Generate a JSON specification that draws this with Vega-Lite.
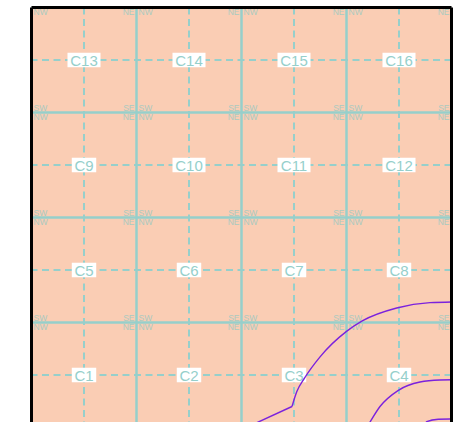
{
  "$schema": "https://vega.github.io/schema/vega-lite/v6.json",
  "width": 420,
  "height": 414.5,
  "autosize": "none",
  "padding": {"left": 31.5, "top": 7.5, "right": 6.5, "bottom": 0},
  "background": "white",
  "config": {
    "view": {"fill": "#FACDB4", "stroke": null},
    "axis": {"disable": true},
    "text": {"font": "Liberation Sans"}
  },
  "datasets": {
    "solid": [{"v": 1}, {"v": 2}, {"v": 3}],
    "dashed": [{"v": 0.5}, {"v": 1.5}, {"v": 2.5}, {"v": 3.5}],
    "frameV": [{"v": 0}, {"v": 4}],
    "frameH": [{"v": 4}],
    "cells": [
      {"cx": 0.5, "cy": 0.5, "label": "C1"}, {"cx": 1.5, "cy": 0.5, "label": "C2"}, {"cx": 2.5, "cy": 0.5, "label": "C3"}, {"cx": 3.5, "cy": 0.5, "label": "C4"},
      {"cx": 0.5, "cy": 1.5, "label": "C5"}, {"cx": 1.5, "cy": 1.5, "label": "C6"}, {"cx": 2.5, "cy": 1.5, "label": "C7"}, {"cx": 3.5, "cy": 1.5, "label": "C8"},
      {"cx": 0.5, "cy": 2.5, "label": "C9"}, {"cx": 1.5, "cy": 2.5, "label": "C10"}, {"cx": 2.5, "cy": 2.5, "label": "C11"}, {"cx": 3.5, "cy": 2.5, "label": "C12"},
      {"cx": 0.5, "cy": 3.5, "label": "C13"}, {"cx": 1.5, "cy": 3.5, "label": "C14"}, {"cx": 2.5, "cy": 3.5, "label": "C15"}, {"cx": 3.5, "cy": 3.5, "label": "C16"}
    ],
    "corners": [
      {"gx": 0, "gy": 1}, {"gx": 1, "gy": 1}, {"gx": 2, "gy": 1}, {"gx": 3, "gy": 1}, {"gx": 4, "gy": 1},
      {"gx": 0, "gy": 2}, {"gx": 1, "gy": 2}, {"gx": 2, "gy": 2}, {"gx": 3, "gy": 2}, {"gx": 4, "gy": 2},
      {"gx": 0, "gy": 3}, {"gx": 1, "gy": 3}, {"gx": 2, "gy": 3}, {"gx": 3, "gy": 3}, {"gx": 4, "gy": 3},
      {"gx": 0, "gy": 4}, {"gx": 1, "gy": 4}, {"gx": 2, "gy": 4}, {"gx": 3, "gy": 4}, {"gx": 4, "gy": 4}
    ],
    "contours": [
      {"id": "1a", "x": 2.046, "y": 0.0}, {"id": "1a", "x": 2.481, "y": 0.2},
      {"id": "1b", "x": 2.481, "y": 0.2}, {"id": "1b", "x": 2.526, "y": 0.34},
      {"id": "1b", "x": 2.6, "y": 0.47}, {"id": "1b", "x": 2.75, "y": 0.675}, {"id": "1b", "x": 3.0, "y": 0.915},
      {"id": "1b", "x": 3.15, "y": 1.015}, {"id": "1b", "x": 3.478, "y": 1.138}, {"id": "1b", "x": 3.795, "y": 1.189},
      {"id": "1b", "x": 4.05, "y": 1.196},
      {"id": "2", "x": 3.193, "y": 0.0}, {"id": "2", "x": 3.224, "y": 0.052}, {"id": "2", "x": 3.319, "y": 0.2},
      {"id": "2", "x": 3.49, "y": 0.352}, {"id": "2", "x": 3.7, "y": 0.433}, {"id": "2", "x": 3.89, "y": 0.452},
      {"id": "2", "x": 4.05, "y": 0.455},
      {"id": "3", "x": 3.738, "y": 0.0}, {"id": "3", "x": 3.764, "y": 0.055}, {"id": "3", "x": 3.874, "y": 0.078},
      {"id": "3", "x": 3.986, "y": 0.081}, {"id": "3", "x": 4.05, "y": 0.081}
    ]
  },
  "layer": [
    {
      "data": {"name": "dashed"},
      "mark": {"type": "rule", "color": "#96CFCB", "strokeWidth": 2, "strokeDash": [7, 4.5], "clip": true},
      "encoding": {"x": {"field": "v", "type": "quantitative", "scale": {"domain": [0, 4], "nice": false}}}
    },
    {
      "data": {"name": "dashed"},
      "mark": {"type": "rule", "color": "#96CFCB", "strokeWidth": 2, "strokeDash": [7, 4.5], "clip": true},
      "encoding": {"y": {"field": "v", "type": "quantitative", "scale": {"domain": [0.0524, 4], "nice": false}}}
    },
    {
      "data": {"name": "solid"},
      "mark": {"type": "rule", "color": "#96CFCB", "strokeWidth": 2.5, "clip": true},
      "encoding": {"x": {"field": "v", "type": "quantitative", "scale": {"domain": [0, 4], "nice": false}}}
    },
    {
      "data": {"name": "solid"},
      "mark": {"type": "rule", "color": "#96CFCB", "strokeWidth": 2.5, "clip": true},
      "encoding": {"y": {"field": "v", "type": "quantitative", "scale": {"domain": [0.0524, 4], "nice": false}}}
    },
    {
      "data": {"name": "corners"},
      "transform": [{"filter": "datum.gx > 0 && datum.gy < 4"}],
      "mark": {"type": "text", "text": "SE", "align": "right", "baseline": "alphabetic", "dx": -2, "dy": -1.5, "fontSize": 8.5, "color": "#8FC9C5", "opacity": 0.75, "clip": true},
      "encoding": {
        "x": {"field": "gx", "type": "quantitative", "scale": {"domain": [0, 4], "nice": false}},
        "y": {"field": "gy", "type": "quantitative", "scale": {"domain": [0.0524, 4], "nice": false}}
      }
    },
    {
      "data": {"name": "corners"},
      "transform": [{"filter": "datum.gx < 4 && datum.gy < 4"}],
      "mark": {"type": "text", "text": "SW", "align": "left", "baseline": "alphabetic", "dx": 2, "dy": -1.5, "fontSize": 8.5, "color": "#8FC9C5", "opacity": 0.75, "clip": true},
      "encoding": {
        "x": {"field": "gx", "type": "quantitative", "scale": {"domain": [0, 4], "nice": false}},
        "y": {"field": "gy", "type": "quantitative", "scale": {"domain": [0.0524, 4], "nice": false}}
      }
    },
    {
      "data": {"name": "corners"},
      "transform": [{"filter": "datum.gx > 0"}],
      "mark": {"type": "text", "text": "NE", "align": "right", "baseline": "top", "dx": -2, "dy": 0.5, "fontSize": 8.5, "color": "#8FC9C5", "opacity": 0.75, "clip": true},
      "encoding": {
        "x": {"field": "gx", "type": "quantitative", "scale": {"domain": [0, 4], "nice": false}},
        "y": {"field": "gy", "type": "quantitative", "scale": {"domain": [0.0524, 4], "nice": false}}
      }
    },
    {
      "data": {"name": "corners"},
      "transform": [{"filter": "datum.gx < 4"}],
      "mark": {"type": "text", "text": "NW", "align": "left", "baseline": "top", "dx": 2, "dy": 0.5, "fontSize": 8.5, "color": "#8FC9C5", "opacity": 0.75, "clip": true},
      "encoding": {
        "x": {"field": "gx", "type": "quantitative", "scale": {"domain": [0, 4], "nice": false}},
        "y": {"field": "gy", "type": "quantitative", "scale": {"domain": [0.0524, 4], "nice": false}}
      }
    },
    {
      "data": {"name": "cells"},
      "mark": {"type": "point", "filled": true, "color": "white", "opacity": 1, "size": 225, "strokeWidth": 0},
      "encoding": {
        "x": {"field": "cx", "type": "quantitative", "scale": {"domain": [0, 4], "nice": false}},
        "y": {"field": "cy", "type": "quantitative", "scale": {"domain": [0.0524, 4], "nice": false}},
        "shape": {
          "condition": {"test": "length(datum.label) > 2", "value": "M-2.2,-0.97H2.2V0.97H-2.2Z"},
          "value": "M-1.63,-0.97H1.63V0.97H-1.63Z"
        }
      }
    },
    {
      "data": {"name": "cells"},
      "mark": {"type": "text", "align": "center", "baseline": "middle", "fontSize": 15, "color": "#96CFCB", "dy": 0.5},
      "encoding": {
        "x": {"field": "cx", "type": "quantitative", "scale": {"domain": [0, 4], "nice": false}},
        "y": {"field": "cy", "type": "quantitative", "scale": {"domain": [0.0524, 4], "nice": false}},
        "text": {"field": "label", "type": "nominal"}
      }
    },
    {
      "data": {"name": "contours"},
      "mark": {"type": "line", "color": "#7B22DD", "strokeWidth": 1.4, "interpolate": "monotone", "clip": true},
      "encoding": {
        "x": {"field": "x", "type": "quantitative", "scale": {"domain": [0, 4], "nice": false}},
        "y": {"field": "y", "type": "quantitative", "scale": {"domain": [0.0524, 4], "nice": false}},
        "detail": {"field": "id", "type": "nominal"}
      }
    },
    {
      "data": {"name": "frameV"},
      "mark": {"type": "rule", "color": "black", "strokeWidth": 3},
      "encoding": {"x": {"field": "v", "type": "quantitative", "scale": {"domain": [0, 4], "nice": false}}}
    },
    {
      "data": {"name": "frameH"},
      "mark": {"type": "rule", "color": "black", "strokeWidth": 3},
      "encoding": {"y": {"field": "v", "type": "quantitative", "scale": {"domain": [0.0524, 4], "nice": false}}}
    }
  ]
}
